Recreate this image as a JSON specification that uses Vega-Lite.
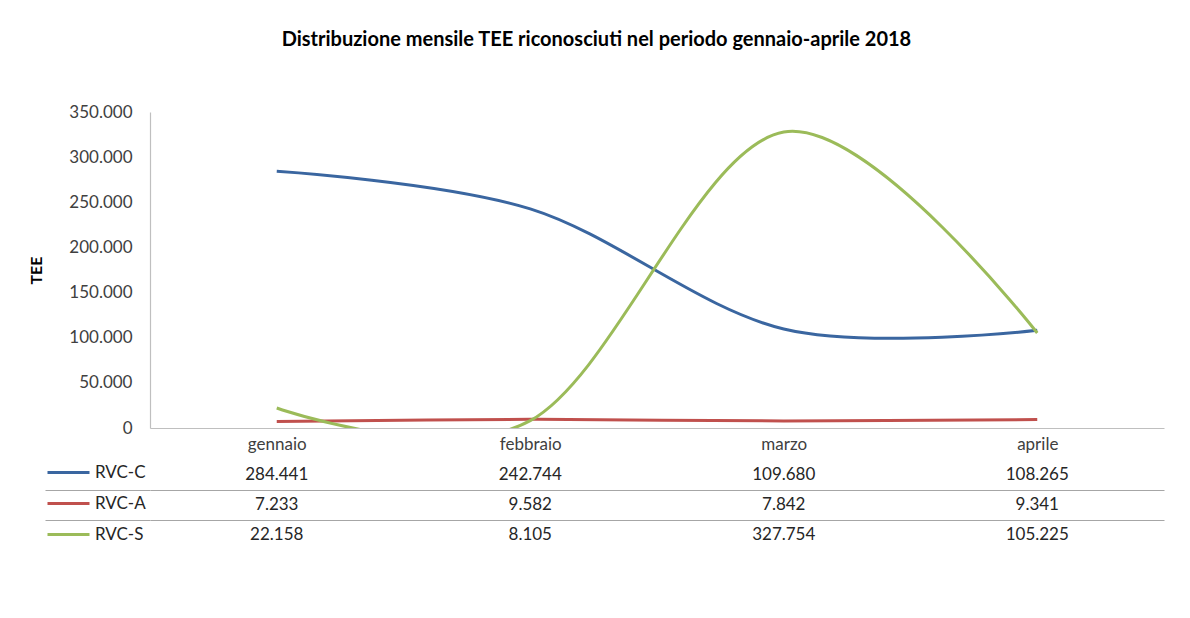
{
  "$schema": "https://vega.github.io/schema/vega-lite/v6.json",
  "padding": {"left": 28, "top": 30, "right": 20, "bottom": 10},
  "background": "white",
  "title": {"text": "Distribuzione mensile TEE riconosciuti nel periodo gennaio-aprile 2018", "font": "Lato", "fontSize": 20, "fontWeight": "bold", "color": "#000000", "anchor": "middle", "offset": 53},
  "config": {
    "locale": {"number": {"decimal": ",", "thousands": ".", "grouping": [3], "currency": ["€", ""]}},
    "view": {"stroke": null},
    "font": "Lato"
  },
  "datasets": {
    "tee": [
      {"mese": "gennaio", "serie": "RVC-C", "valore": 284441},
      {"mese": "febbraio", "serie": "RVC-C", "valore": 242744},
      {"mese": "marzo", "serie": "RVC-C", "valore": 109680},
      {"mese": "aprile", "serie": "RVC-C", "valore": 108265},
      {"mese": "gennaio", "serie": "RVC-A", "valore": 7233},
      {"mese": "febbraio", "serie": "RVC-A", "valore": 9582},
      {"mese": "marzo", "serie": "RVC-A", "valore": 7842},
      {"mese": "aprile", "serie": "RVC-A", "valore": 9341},
      {"mese": "gennaio", "serie": "RVC-S", "valore": 22158},
      {"mese": "febbraio", "serie": "RVC-S", "valore": 8105},
      {"mese": "marzo", "serie": "RVC-S", "valore": 327754},
      {"mese": "aprile", "serie": "RVC-S", "valore": 105225}
    ]
  },
  "data": {"name": "tee"},
  "spacing": 8,
  "resolve": {"scale": {"x": "independent", "y": "independent"}},
  "vconcat": [
    {
      "width": 1014,
      "height": 316,
      "mark": {"type": "line", "interpolate": "cardinal", "tension": 0, "strokeWidth": 3, "clip": true},
      "encoding": {
        "x": {
          "field": "mese", "type": "nominal",
          "sort": ["gennaio", "febbraio", "marzo", "aprile"],
          "scale": {"type": "point", "padding": 0.5},
          "axis": {"title": null, "labelAngle": 0, "ticks": false, "domainColor": "#bfbfbf", "domainWidth": 1.2, "labelFont": "Lato", "labelFontSize": 17, "labelColor": "#404040", "labelPadding": 8}
        },
        "y": {
          "field": "valore", "type": "quantitative",
          "scale": {"domain": [0, 350000], "nice": false},
          "axis": {"title": "TEE", "titleFont": "Lato", "titleFontSize": 16, "titleFontWeight": "bold", "titleColor": "#000000", "titlePadding": 24,
                   "values": [0, 50000, 100000, 150000, 200000, 250000, 300000, 350000], "format": ",d",
                   "grid": false, "ticks": false, "domainColor": "#bfbfbf", "domainWidth": 1.2, "labelFont": "Lato", "labelFontSize": 17, "labelColor": "#404040", "labelPadding": 18}
        },
        "color": {
          "field": "serie", "type": "nominal",
          "scale": {"domain": ["RVC-C", "RVC-A", "RVC-S"], "range": ["#3a66a0", "#c0504d", "#9bbb59"]},
          "legend": {"orient": "none", "legendX": -104, "legendY": 338, "title": null, "symbolType": "stroke", "symbolSize": 1764, "symbolStrokeWidth": 3, "labelFont": "Lato", "labelFontSize": 17, "labelColor": "#262626", "labelOffset": 4, "rowPadding": 0, "padding": 0}
        }
      }
    },
    {
      "width": 1014,
      "height": 90,
      "mark": {"type": "text", "font": "Lato", "fontSize": 17, "color": "#262626"},
      "encoding": {
        "x": {
          "field": "mese", "type": "nominal",
          "sort": ["gennaio", "febbraio", "marzo", "aprile"],
          "scale": {"type": "point", "padding": 0.5},
          "axis": null
        },
        "y": {
          "field": "serie", "type": "nominal",
          "sort": ["RVC-C", "RVC-A", "RVC-S"],
          "scale": {"type": "band", "paddingInner": 0, "paddingOuter": 0},
          "axis": {"title": null, "values": ["RVC-A", "RVC-S"], "bandPosition": 0, "labels": false, "domain": false, "ticks": true, "tickSize": 105, "tickColor": "#a6a6a6", "tickWidth": 1.2, "grid": true, "gridColor": "#a6a6a6", "gridWidth": 1.2}
        },
        "text": {"field": "valore", "type": "quantitative", "format": ",d"}
      }
    }
  ]
}
